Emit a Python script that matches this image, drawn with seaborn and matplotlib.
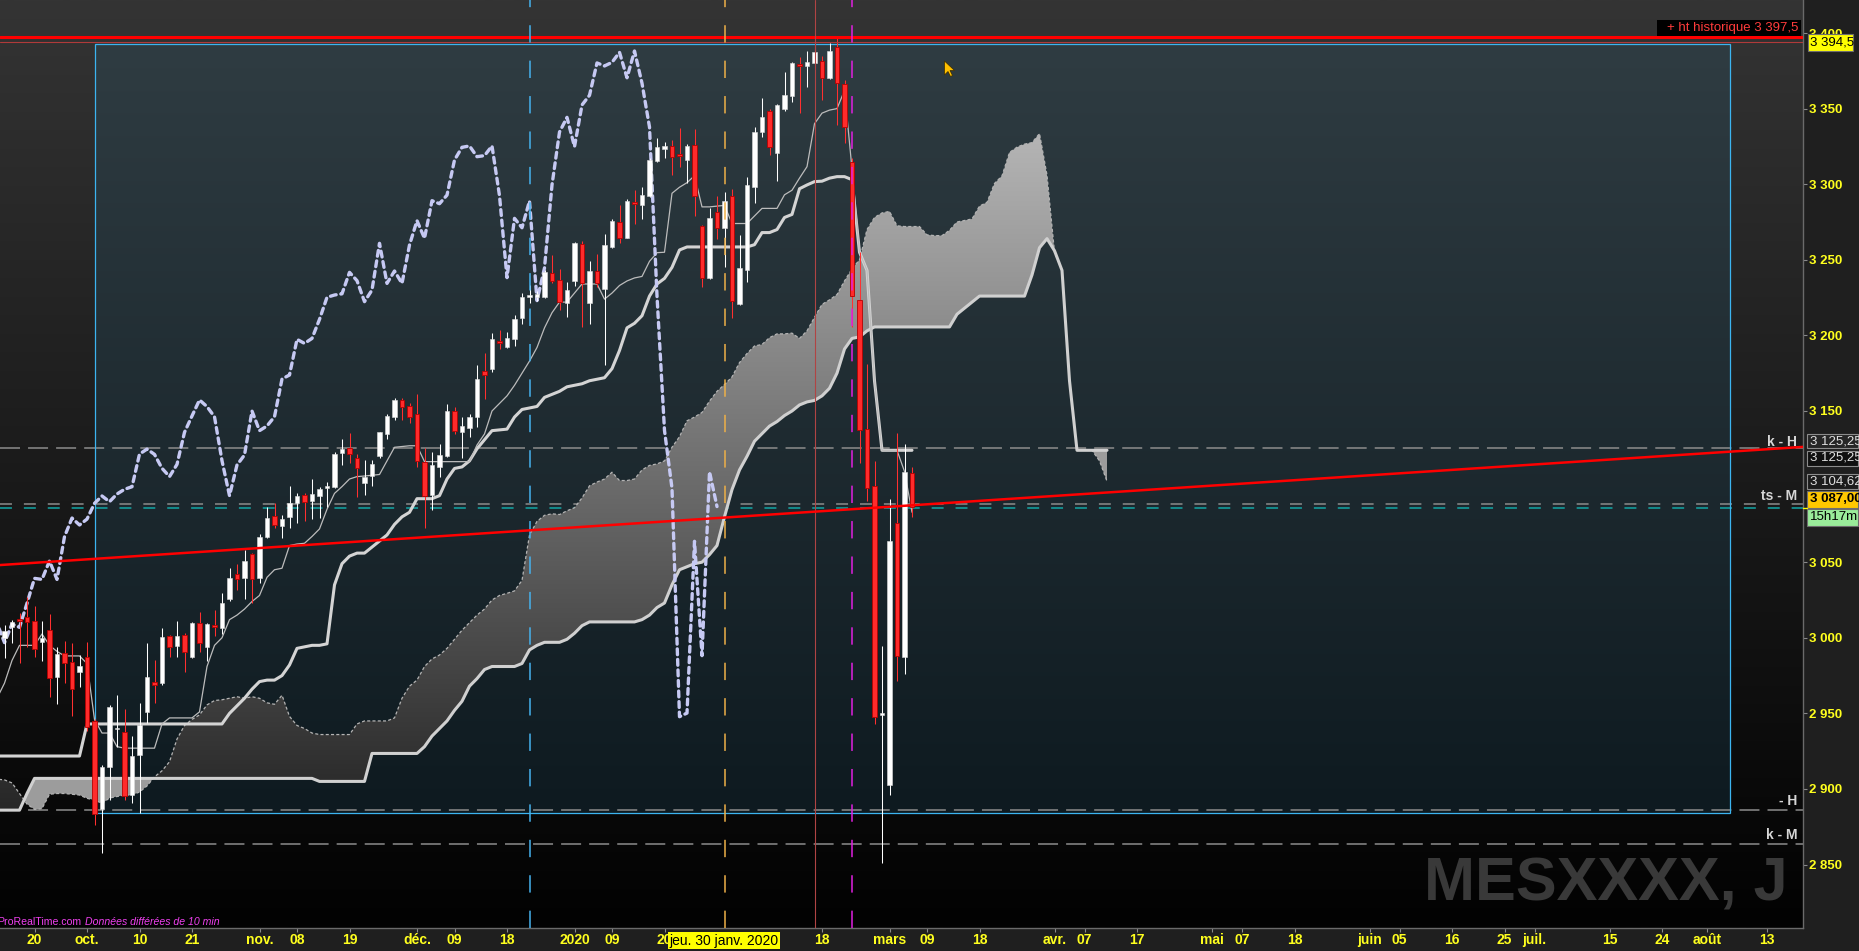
import numpy as np
import pandas as pd
import matplotlib
matplotlib.use("Agg")
import matplotlib.pyplot as plt
import seaborn as sns
from matplotlib.patches import Rectangle, PathPatch, Polygon
from matplotlib.path import Path

# ------------------------------------------------------------------ data
start_date = "2019-09-16"
closed_days = ["2019-12-25", "2020-01-01", "2020-04-10"]

opens = [2999.6, 3007.4, 3012.2, 3013.7, 3011.1, 2997.4, 3005.1, 2974.3, 2990.1, 2984.0,
         2977.6, 2987.1, 2945.2, 2886.8, 2914.8, 2939.5, 2937.9, 2896.0, 2922.5, 2951.1,
         2970.7, 2969.9, 3001.2, 2994.8, 3001.8, 2987.5, 3009.6, 2994.1, 3008.4, 3006.7,
         3025.6, 3041.9, 3039.3, 3055.2, 3039.3, 3066.9, 3080.5, 3073.9, 3080.1, 3089.4,
         3094.4, 3090.7, 3094.0, 3099.3, 3099.9, 3122.0, 3125.3, 3119.1, 3102.6, 3107.0,
         3120.4, 3134.6, 3146.2, 3157.3, 3153.3, 3147.8, 3116.5, 3094.4, 3113.2, 3120.4,
         3150.0, 3136.3, 3139.0, 3146.2, 3176.7, 3177.5, 3196.3, 3192.5, 3197.6, 3211.7,
         3225.2, 3225.5, 3225.6, 3241.0, 3236.6, 3221.6, 3236.2, 3260.2, 3221.6, 3242.6,
         3230.9, 3258.7, 3274.8, 3264.6, 3288.0, 3286.2, 3292.4, 3315.3, 3323.5, 3325.3,
         3320.0, 3316.0, 3325.7, 3272.3, 3237.7, 3281.4, 3271.2, 3292.2, 3220.8, 3243.3,
         3298.4, 3334.7, 3348.4, 3320.9, 3349.7, 3358.6, 3379.5, 3378.2, 3380.4, 3381.8,
         3370.4, 3391.0, 3366.1, 3314.7, 3223.3, 3137.8, 3100.3, 2949.0, 2902.5, 3076.2,
         2987.5, 3108.8]
highs = [3008.4, 3011.8, 3016.2, 3027.2, 3021.0, 3011.1, 3015.7, 2994.1, 2998.1, 2996.3,
         2988.6, 2997.0, 2946.5, 2915.8, 2955.5, 2962.1, 2952.9, 2935.0, 2956.6, 2996.3,
         2985.3, 3006.2, 3001.8, 3011.1, 3003.0, 3010.6, 3016.8, 3009.6, 3018.4, 3029.4,
         3045.9, 3048.6, 3058.1, 3056.3, 3068.6, 3086.7, 3089.4, 3081.2, 3100.4, 3096.0,
         3095.5, 3104.8, 3099.9, 3103.2, 3123.1, 3131.5, 3135.2, 3121.5, 3117.6, 3117.6,
         3136.3, 3147.8, 3158.4, 3158.4, 3155.1, 3161.2, 3125.3, 3122.6, 3128.2, 3154.4,
         3152.4, 3146.2, 3147.8, 3180.4, 3188.6, 3201.8, 3203.6, 3202.5, 3213.5, 3228.3,
         3233.3, 3229.5, 3243.3, 3253.2, 3243.7, 3235.1, 3262.0, 3262.6, 3249.2, 3253.8,
         3267.1, 3277.0, 3286.2, 3290.2, 3296.2, 3297.9, 3317.5, 3330.3, 3328.1, 3329.2,
         3336.9, 3326.6, 3336.5, 3273.0, 3284.5, 3292.4, 3294.6, 3296.6, 3266.4, 3305.0,
         3337.6, 3356.8, 3349.7, 3353.0, 3374.2, 3380.8, 3383.9, 3388.1, 3393.2, 3384.5,
         3393.5, 3397.5, 3368.6, 3317.0, 3255.0, 3181.4, 3116.6, 2994.6, 3092.1, 3135.7,
         3128.2, 3112.7]
lows = [2986.4, 2996.8, 2983.1, 2994.1, 2987.5, 2984.9, 2961.0, 2956.0, 2969.9, 2948.3,
        2967.2, 2938.5, 2876.2, 2857.4, 2892.7, 2928.0, 2892.7, 2890.9, 2884.3, 2943.4,
        2956.6, 2968.8, 2987.5, 2987.5, 2977.6, 2986.4, 2990.8, 2984.9, 3001.4, 3002.5,
        3024.3, 3031.6, 3025.6, 3022.8, 3036.0, 3065.8, 3072.4, 3066.2, 3072.8, 3075.7,
        3077.5, 3078.6, 3079.0, 3086.7, 3098.8, 3114.3, 3115.8, 3093.3, 3094.4, 3100.6,
        3119.1, 3131.2, 3144.0, 3144.0, 3142.3, 3113.2, 3072.4, 3084.5, 3106.6, 3119.8,
        3134.6, 3119.1, 3132.6, 3139.6, 3157.9, 3175.6, 3191.0, 3191.5, 3193.2, 3207.5,
        3221.2, 3222.5, 3224.5, 3234.4, 3216.8, 3211.9, 3232.7, 3205.8, 3207.5, 3232.2,
        3180.6, 3257.6, 3260.9, 3264.2, 3273.7, 3277.0, 3291.7, 3314.9, 3317.5, 3306.1,
        3311.6, 3301.0, 3279.2, 3232.2, 3237.1, 3263.7, 3245.0, 3211.3, 3220.1, 3235.1,
        3287.4, 3331.4, 3319.3, 3302.3, 3348.6, 3354.6, 3347.3, 3364.5, 3380.0, 3355.5,
        3369.5, 3339.0, 3327.2, 3205.6, 3115.9, 3090.4, 2943.2, 2851.0, 2896.2, 2971.6,
        2975.9, 3079.8]
closes = [3004.5, 3010.6, 3011.3, 3010.6, 2992.4, 3000.1, 2973.2, 2989.3, 2983.1, 2966.3,
          2981.3, 2941.2, 2883.4, 2914.3, 2954.0, 2940.5, 2895.4, 2921.8, 2942.3, 2973.8,
          2968.6, 3000.3, 2994.1, 3001.2, 2990.8, 3009.6, 2996.8, 3009.1, 3006.9, 3022.8,
          3039.3, 3038.6, 3050.8, 3038.6, 3066.9, 3079.2, 3074.6, 3078.5, 3088.9, 3093.8,
          3090.0, 3095.1, 3098.2, 3099.9, 3121.5, 3124.8, 3121.3, 3112.1, 3106.6, 3114.7,
          3135.9, 3146.7, 3157.3, 3152.9, 3146.2, 3117.1, 3094.0, 3114.3, 3120.9, 3150.0,
          3137.0, 3140.1, 3146.2, 3171.2, 3173.8, 3197.4, 3194.7, 3198.0, 3210.6, 3225.2,
          3226.7, 3227.5, 3241.7, 3236.2, 3222.3, 3230.0, 3260.9, 3234.4, 3242.6, 3234.4,
          3259.8, 3275.9, 3264.2, 3289.1, 3287.1, 3292.8, 3316.0, 3324.4, 3325.3, 3318.2,
          3318.9, 3325.3, 3292.4, 3238.2, 3277.4, 3271.2, 3288.9, 3223.0, 3244.6, 3299.5,
          3334.5, 3344.2, 3324.8, 3352.4, 3358.8, 3380.2, 3378.2, 3380.6, 3387.2, 3370.4,
          3388.1, 3366.8, 3337.8, 3226.1, 3137.1, 3098.9, 2947.8, 2950.2, 3063.8, 2988.2,
          3109.8, 3086.8]

# Ichimoku lines (tenkan / kijun start one bar before the first candle)
tenkan = [2960, 2970, 2985, 2995, 2995, 2995, 3002.5, 2995, 2991, 2988,
          2988, 2988, 2983, 2946, 2937, 2937, 2928, 2927, 2927, 2927,
          2927, 2927, 2943, 2947, 2947, 2947, 2947, 2951, 2981, 2995,
          3000, 3012, 3015, 3019, 3024, 3028, 3040, 3045, 3046, 3061,
          3062, 3062.5, 3067, 3072, 3085, 3095.5, 3100, 3105, 3106.6, 3107,
          3107.5, 3108, 3117, 3126, 3126.5, 3127, 3127, 3116.5, 3116.5, 3116.5,
          3116.5, 3116.5, 3116.5, 3116.5, 3127.5, 3134.8, 3150, 3155, 3160, 3167,
          3175, 3183, 3192, 3205, 3215, 3222, 3222, 3228, 3234, 3234,
          3234, 3224, 3228, 3233, 3236, 3238, 3239, 3249, 3254.7, 3255,
          3294, 3298, 3301, 3305.6, 3285, 3285, 3285.5, 3286, 3274, 3274,
          3274, 3279, 3284, 3284, 3284, 3293, 3296, 3304, 3311.6, 3340,
          3347, 3349, 3350, 3362, 3310, 3255, 3243, 3170, 3124, 3124,
          3124, 3110, 3083]
kijun = ([2921.8] * 12 + [2943] * 19 +
         [2950, 2955, 2960, 2966, 2971, 2972, 2972, 2975, 2982, 2993,
          2994, 2995, 2995, 2996, 3035, 3049, 3054, 3056, 3056, 3060,
          3064, 3068, 3075, 3080, 3083, 3092, 3092, 3092, 3094, 3105,
          3112, 3113, 3117, 3125, 3131, 3137, 3137.5, 3138, 3146, 3151,
          3152, 3153, 3159, 3161, 3163, 3166, 3167, 3168, 3170, 3171,
          3172, 3178, 3190, 3205, 3208, 3213, 3226, 3234, 3237.7, 3245,
          3256.5, 3258.5, 3258.5, 3258.5, 3258.5, 3258.5, 3258.5, 3258.5, 3258.5, 3258.5,
          3260, 3268, 3268, 3270, 3278, 3280, 3297, 3299.5, 3301.7, 3302,
          3304, 3305, 3305, 3303, 3255, 3243, 3170, 3124, 3124, 3124,
          3124, 3124])
span_a = [2906.5, 2906, 2904, 2897, 2890, 2886.5, 2887, 2896.5, 2897, 2897,
          2896.5, 2896, 2893.8, 2892.7, 2890.5, 2894, 2895, 2896, 2896, 2898,
          2902, 2908, 2912, 2918, 2933, 2942, 2946, 2949, 2955.6, 2958.5,
          2959, 2960, 2961, 2960, 2961, 2960, 2957, 2956, 2962, 2948,
          2942, 2940, 2937, 2936, 2936, 2936, 2936, 2936, 2943, 2945,
          2945, 2945, 2945, 2947, 2960, 2968, 2972, 2981, 2986, 2988.6,
          2993, 2999, 3005, 3010, 3015, 3019, 3025, 3028, 3029.4, 3031,
          3038, 3068, 3077, 3081, 3082, 3081.5, 3084, 3086, 3092.5, 3100.5,
          3103, 3105, 3109.5, 3104, 3104, 3105, 3111, 3114, 3115, 3117,
          3126, 3133, 3143.5, 3146, 3149, 3156.5, 3163, 3167.5, 3172.5, 3182,
          3188, 3193, 3194, 3198.5, 3201, 3201, 3201.5, 3198, 3203, 3212,
          3220.5, 3223.5, 3227, 3236, 3244, 3250, 3270, 3278, 3281, 3282,
          3272.5, 3272, 3272, 3272, 3266.5, 3266, 3266, 3269.5, 3275, 3276,
          3277, 3285.5, 3288, 3300.5, 3305.5, 3321, 3324.5, 3326.5, 3327.5, 3333.5,
          3306, 3255, 3243, 3170, 3124, 3124, 3124, 3117, 3103.5]
span_b = ([2886, 2886, 2886, 2886, 2897] + [2907] * 38 + [2905] * 7 + [2923.5] * 7 +
          [2928, 2935, 2940, 2945, 2952, 2958, 2968, 2973, 2979, 2981,
           2981, 2981, 2981, 2983, 2992, 2995, 2997, 2997, 2997, 2999,
           3003, 3008] + [3010.5] * 7 +
          [3012, 3015, 3020, 3023, 3035, 3045, 3047, 3049, 3050, 3055,
           3061, 3080, 3098, 3111, 3120, 3130, 3135, 3140, 3143, 3147,
           3150, 3154, 3156, 3157, 3160, 3165, 3175, 3191, 3198, 3199,
           3203] + [3205.6] * 11 + [3214, 3218, 3222] + [3226] * 7 +
          [3240, 3258, 3264, 3256, 3243, 3170] + [3124] * 5)
chikou_shift = 26

# drawn levels / objects
trend_dates = ["2019-09-16", "2020-08-19"]
trend_prices = [3048.3, 3126.0]
ath_price = 3397.5
last_high_price = 3394.0
k_h_price = 3125.25
ts_m_prices = [3088.3, 3085.6]
h_price = 2886.3
k_m_price = 2863.4
box_dates = ["2019-10-02", "2020-08-06"]
box_prices = [2884.0, 3392.6]
vline_dates = ["2019-12-23", "2020-01-30", "2020-02-17", "2020-02-24"]

tick_dates = ["2019-09-20", "2019-10-01", "2019-10-10", "2019-10-21", "2019-11-01", "2019-11-08",
              "2019-11-19", "2019-12-02", "2019-12-09", "2019-12-18", "2020-01-02", "2020-01-09",
              "2020-01-20", "2020-02-18", "2020-03-02", "2020-03-09", "2020-03-18", "2020-04-01",
              "2020-04-07", "2020-04-17", "2020-05-01", "2020-05-07", "2020-05-18", "2020-06-01",
              "2020-06-05", "2020-06-16", "2020-06-25", "2020-07-01", "2020-07-15", "2020-07-24",
              "2020-08-03", "2020-08-13"]
tick_labels = ["20", "oct.", "10", "21", "nov.", "08", "19", "déc.", "09", "18", "2020", "09",
               "20", "18", "mars", "09", "18", "avr.", "07", "17", "mai", "07", "18", "juin",
               "05", "16", "25", "juil.", "15", "24", "août", "13"]
# 3 100 is hidden behind the price boxes in the original
price_ticks = [2850, 2900, 2950, 3000, 3050, 3150, 3200, 3250, 3300, 3350, 3400]

# ------------------------------------------------------------------ setup
sns.set_theme(style="dark")
plt.rcParams["font.family"] = ["Liberation Sans", "DejaVu Sans"]
plt.rcParams["lines.scale_dashes"] = False

W, H = 1859, 951
days = pd.bdate_range(start_date, periods=245, freq="C", holidays=closed_days)
def pos(d):
    return days.get_loc(pd.Timestamp(d))

x_lo, x_hi = -0.6, 239.76
y_lo, y_hi = 2807.85, 3421.83

fig = plt.figure(figsize=(W / 100, H / 100), dpi=100, facecolor="#1f1f1f")
ax = fig.add_axes([0, 1 - 928.3 / H, 1802.7 / W, 928.3 / H])
ax.set_facecolor("black")
ax.grid(False)

# background gradients
t = np.linspace(0, 1, 256)
bg = np.tile(((52 + (2 - 52) * t) / 255)[:, None, None], (1, 1, 3))
ax.imshow(bg, extent=(x_lo, x_hi, y_lo, y_hi), origin="upper", aspect="auto",
          interpolation="bilinear", zorder=0)
bx0, bx1 = pos(box_dates[0]), pos(box_dates[1])
top_c = np.array([47, 60, 66]); bot_c = np.array([14, 26, 32])
rg = ((top_c[None, :] + (bot_c - top_c)[None, :] * t[:, None]) / 255)[:, None, :]
ax.imshow(rg, extent=(bx0, bx1, box_prices[0], box_prices[1]), origin="upper",
          aspect="auto", interpolation="bilinear", zorder=0.3)
ax.add_patch(Rectangle((bx0, box_prices[0]), bx1 - bx0, box_prices[1] - box_prices[0],
                       fill=False, ec="#3cb4f0", lw=0.9, zorder=1.8))

# watermark
ax.text(1788 / W, 1 - 900 / H, "MESXXXX, J", transform=fig.transFigure, ha="right",
        va="baseline", fontsize=44, fontweight="bold", color="#393939", zorder=0.7)

# ------------------------------------------------------------------ cloud
xa = np.arange(-1, len(span_a) - 1)
A = np.array(span_a, float); B = np.array(span_b, float)
bull = ax.fill_between(xa, A, B, where=A >= B, interpolate=True, facecolor="none", edgecolor="none")
cpath = Path.make_compound_path(*bull.get_paths())
bull.remove()
clip = PathPatch(cpath, transform=ax.transData)
gy = np.linspace(2860, 3360, 256)
gv = np.clip(40 + (gy - 2890) * 0.318, 30, 190) / 255
grad = np.tile(gv[:, None, None], (1, 1, 3))
im = ax.imshow(grad, extent=(-1, xa[-1], 2860, 3360), origin="lower", aspect="auto",
               interpolation="bilinear", zorder=2)
im.set_clip_path(clip)
ax.fill_between(xa, A, B, where=A < B, interpolate=True, facecolor="#9c9c9c",
                edgecolor="none", zorder=2)

sns.lineplot(x=xa, y=A, ax=ax, color="#b4b4b4", lw=0.9, linestyle=(0, (2.2, 1.6)),
             estimator=None, errorbar=None, zorder=2.5)
sns.lineplot(x=xa, y=B, ax=ax, color="#d0d0d0", lw=2.2, estimator=None, errorbar=None,
             zorder=3)

# tenkan / kijun / chikou
xk = np.arange(-1, len(kijun) - 1)
sns.lineplot(x=xk, y=kijun, ax=ax, color="#d4d4d4", lw=2.2, estimator=None, errorbar=None, zorder=3)
sns.lineplot(x=xk, y=tenkan, ax=ax, color="#bcbcbc", lw=0.9, estimator=None, errorbar=None, zorder=3.1)
xc = np.arange(-1, len(closes) - chikou_shift)
sns.lineplot(x=xc, y=closes[chikou_shift - 1:], ax=ax, color="#c6c9f3", lw=2.4,
             linestyle=(0, (4.2, 3.4)), estimator=None, errorbar=None, zorder=4)
ax.lines[-1].set_dash_capstyle("round")

# ------------------------------------------------------------------ levels
ax.axhline(ath_price, color="#ff0000", lw=2.2, zorder=6)
ax.axhline(last_high_price, color="#b03a3a", lw=0.8, zorder=6)
for p in [k_h_price, h_price, k_m_price]:
    ax.axhline(p, color="#8c8c8c", lw=1.1, linestyle=(0, (14.4, 5.8)), zorder=1.5)
ax.axhline(ts_m_prices[0], color="#8c8c8c", lw=1.1, linestyle=(0, (8.6, 8.6)), zorder=1.5)
ax.axhline(ts_m_prices[1], color="#12a6a6", lw=1.1, linestyle=(0, (8.6, 8.6)), zorder=1.5)

vcols = ["#46b2ee", "#eeb048", "#b04444", "#e020e0"]
for d, col in zip(vline_dates, vcols):
    if col == "#b04444":
        ax.axvline(pos(d), color=col, lw=0.8, zorder=6)
    else:
        ax.axvline(pos(d), color=col, lw=1.1, linestyle=(0, (12.5, 13)), zorder=6)

# ------------------------------------------------------------------ candles
xi = np.arange(len(closes))
o = np.array(opens); c = np.array(closes); hi = np.array(highs); lo = np.array(lows)
up = c >= o
blo = np.minimum(o, c); bh = np.maximum(np.abs(c - o), 0.9)
ax.vlines(xi[up], lo[up], hi[up], color="#ffffff", lw=0.75, zorder=5)
ax.vlines(xi[~up], lo[~up], hi[~up], color="#ff3030", lw=0.75, zorder=5)
ax.bar(xi[up], bh[up], bottom=blo[up], width=0.62, color="#ffffff", edgecolor="#dcdcdc",
       lw=0.4, zorder=5.1)
ax.bar(xi[~up], bh[~up], bottom=blo[~up], width=0.62, color="#ff2b2b", edgecolor="#b80000",
       lw=0.6, zorder=5.1)

# trend line
ax.axline((pos(trend_dates[0]), trend_prices[0]), (pos(trend_dates[1]), trend_prices[1]),
          color="#ff0000", lw=1.8, zorder=6.5)

# ------------------------------------------------------------------ axes
ax.set_xlim(x_lo, x_hi)
ax.set_ylim(y_lo, y_hi)
ax.yaxis.tick_right()
ax.set_yticks(price_ticks, labels=[f"{v // 1000} {v % 1000:03d}" for v in price_ticks])
ax.set_xticks([pos(d) for d in tick_dates], labels=tick_labels)
ax.tick_params(axis="y", length=2.9, width=0.8, color="#8a8a8a", pad=1.6,
               labelcolor="#ffff1e", labelsize=9.5, right=True, left=False)
ax.tick_params(axis="x", length=2.9, width=0.8, color="#8a8a8a", pad=0.8,
               labelcolor="#ffff1e", labelsize=10, bottom=True)
for tl in ax.get_yticklabels() + ax.get_xticklabels():
    tl.set_fontweight("bold")
for s in ["top", "left"]:
    ax.spines[s].set_visible(False)
for s in ["right", "bottom"]:
    ax.spines[s].set_visible(True)
    ax.spines[s].set_color("#6a6a6a")
    ax.spines[s].set_linewidth(1.0)

# ------------------------------------------------------------------ overlays (figure pixels)
def fx(px): return px / W
def fy(py): return 1 - py / H

def box(x0, y0, x1, y1, fc, ec="#8c8c8c"):
    fig.add_artist(Rectangle((fx(x0), fy(y1)), (x1 - x0) / W, (y1 - y0) / H,
                             transform=fig.transFigure, facecolor=fc, edgecolor=ec,
                             lw=0.8, zorder=10))

box(1657, 20, 1801, 36, "#000000", ec="none")
fig.text(fx(1798), fy(28), "+ ht historique 3 397,5", ha="right", va="center",
         fontsize=9.5, color="#ff3c3c", zorder=11)
box(1808, 34.5, 1853, 50.5, "#ffff00", ec="#6e6e6e")
fig.text(fx(1810), fy(42.5), "3 394,5", ha="left", va="center", fontsize=9.5, color="black", zorder=11)
box(1807, 434.5, 1858, 448.5, "#262626")
fig.text(fx(1810), fy(441.5), "3 125,25", ha="left", va="center", fontsize=9.5, color="#e0e0e0", zorder=11)
box(1807, 450.5, 1858, 465.5, "#101010")
fig.text(fx(1810), fy(458), "3 125,25", ha="left", va="center", fontsize=9.5, color="#e0e0e0", zorder=11)
box(1807, 474, 1858, 488.5, "#1c1c1c")
fig.text(fx(1810), fy(481.2), "3 104,62", ha="left", va="center", fontsize=9.5, color="#e0e0e0", zorder=11)
box(1807, 490.5, 1858, 507.5, "#ffc800", ec="#6e6e6e")
fig.text(fx(1810), fy(499), "3 087,00", ha="left", va="center", fontsize=9.5, color="black",
         fontweight="bold", zorder=11)
box(1807, 509, 1858, 526, "#9aec9a", ec="#6e6e6e")
fig.text(fx(1810), fy(517.5), "15h17m", ha="left", va="center", fontsize=9.5, color="black", zorder=11)
fig.add_artist(plt.Line2D([fx(1803), fx(1807)], [fy(508), fy(508)], color="#ffff00", lw=1,
                          transform=fig.transFigure, zorder=11))

for lbl, py in [("k - H", 441.7), ("ts - M", 495.7), ("- H", 801), ("k - M", 835)]:
    fig.text(fx(1797), fy(py), lbl, ha="right", va="center", fontsize=10,
             fontweight="bold", color="#d6d6d6", zorder=11)

fig.text(fx(724), fy(940.5), "jeu. 30 janv. 2020", ha="center", va="center", fontsize=10,
         color="black", zorder=12,
         bbox=dict(boxstyle="square,pad=0.12", facecolor="#ffff00", edgecolor="none"))

ax.text(fx(-3), fy(922), "ProRealTime.com", transform=fig.transFigure, ha="left",
        va="center", fontsize=7.6, color="#f040f0", zorder=7)
ax.text(fx(85), fy(922), "Données différées de 10 min", transform=fig.transFigure,
        ha="left", va="center", fontsize=7.6, color="#f040f0", style="italic", zorder=7)

cursor = [(944.5, 61), (944.5, 75), (948, 71.5), (950.5, 76.5), (952.5, 75.5), (950, 70.5), (954.5, 70.5)]
fig.add_artist(Polygon([(fx(a), fy(b)) for a, b in cursor], closed=True, transform=fig.transFigure,
                       facecolor="#ffc000", edgecolor="#3a2a00", lw=0.5, zorder=12))

fig.savefig("out.png", dpi=100, facecolor=fig.get_facecolor())
